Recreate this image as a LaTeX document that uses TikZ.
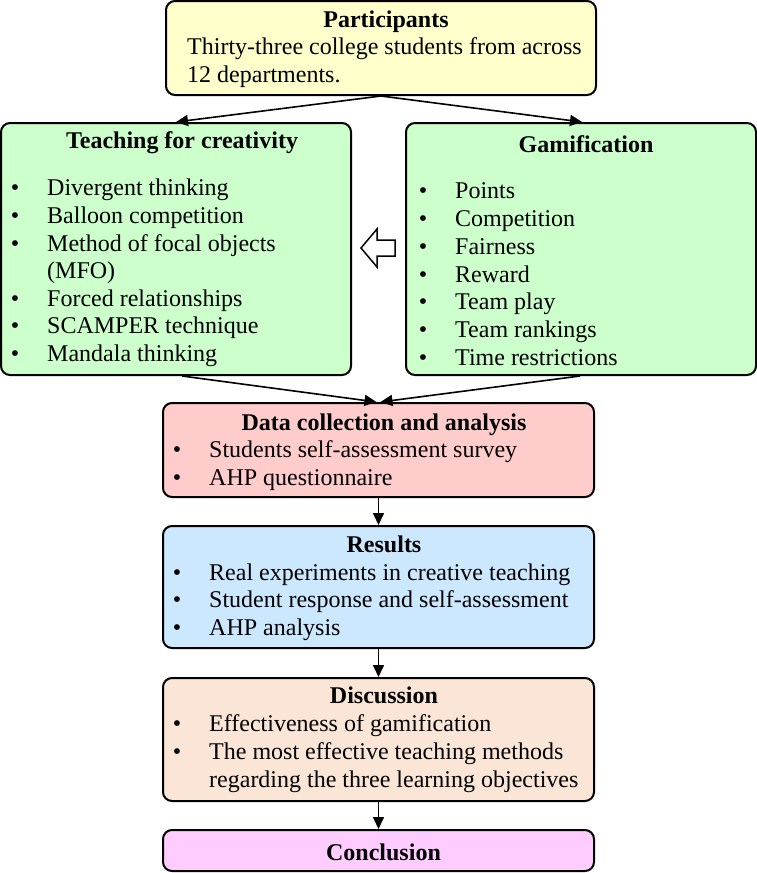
\documentclass[tikz,border=0pt]{standalone}
\usepackage{fontspec}
\setmainfont{Liberation Serif}
\usetikzlibrary{arrows.meta}
\definecolor{cPart}{HTML}{FFFFCC}
\definecolor{cGreen}{HTML}{CCFFCC}
\definecolor{cData}{HTML}{FFCCCC}
\definecolor{cRes}{HTML}{CCE8FF}
\definecolor{cDisc}{HTML}{FBE5D6}
\definecolor{cConc}{HTML}{FFCCFF}
\tikzset{
  box/.style={draw=black, line width=2pt, rounded corners=9pt, inner sep=0pt},
  ttl/.style={anchor=base, inner sep=0pt, font=\fontsize{24}{28}\selectfont\bfseries},
  txt/.style={anchor=base west, inner sep=0pt, font=\fontsize{24}{28}\selectfont},
  bul/.style={anchor=base, inner sep=0pt, font=\fontsize{24}{28}\selectfont},
  conn/.style={line width=1.6pt, -{Triangle[length=12pt,width=11pt]}},
}
\begin{document}
\begin{tikzpicture}[x=1pt,y=-1pt]
\useasboundingbox (0,0) rectangle (757,873);
% boxes
\node[box, fill=cPart, minimum width=430pt, minimum height=94pt] (part) at (381,48) {};
\node[box, fill=cGreen, minimum width=350pt, minimum height=252pt] (teach) at (176,249) {};
\node[box, fill=cGreen, minimum width=350pt, minimum height=252pt] (gam) at (581,249) {};
\node[box, fill=cData, minimum width=431pt, minimum height=94pt] (data) at (378.5,450) {};
\node[box, fill=cRes, minimum width=431pt, minimum height=122pt] (res) at (378.5,587) {};
\node[box, fill=cDisc, minimum width=431pt, minimum height=123pt] (disc) at (378.5,739.5) {};
\node[box, fill=cConc, minimum width=431pt, minimum height=41pt] (conc) at (378.5,850.5) {};
% participants
\node[ttl] (pt) at (386,27) {Participants};
\node[txt] (p1) at (187,54.5) {Thirty-three college students from across};
\node[txt] (p2) at (187,82) {12 departments.};
% teaching
\node[ttl] (tt) at (182,148) {Teaching for creativity};
\foreach \y/\t/\b [count=\i] in {195/Divergent thinking/1, 223/Balloon competition/1, 251/Method of focal objects/1, 278/(MFO)/0, 306/Forced relationships/1, 333/SCAMPER technique/1, 361/Mandala thinking/1}{
  \node[txt] (t\i) at (47,\y) {\t};
  \ifnum\b=1 \node[bul] (tb\i) at (15,\y) {•};\fi
}
% gamification
\node[ttl] (gt) at (586,152) {Gamification};
\foreach \y/\t [count=\i] in {198/Points, 226/Competition, 254/Fairness, 282/Reward, 309/Team play, 337/Team rankings, 365/Time restrictions}{
  \node[txt] (g\i) at (455,\y) {\t};
  \node[bul] (gb\i) at (423,\y) {•};
}
% data
\node[ttl] (dt) at (384,430) {Data collection and analysis};
\foreach \y/\t [count=\i] in {457/Students self-assessment survey, 485/AHP questionnaire}{
  \node[txt] (d\i) at (209,\y) {\t};
  \node[bul] (db\i) at (177,\y) {•};
}
% results
\node[ttl] (rt) at (384,552) {Results};
\foreach \y/\t [count=\i] in {580/Real experiments in creative teaching, 607/Student response and self-assessment, 635/AHP analysis}{
  \node[txt] (r\i) at (209,\y) {\t};
  \node[bul] (rb\i) at (177,\y) {•};
}
% discussion
\node[ttl] (st) at (384,703) {Discussion};
\node[txt] (s1) at (209,731) {Effectiveness of gamification};
\node[bul] (sb1) at (177,731) {•};
\node[txt] (s2) at (209,759) {The most effective teaching methods};
\node[bul] (sb2) at (177,759) {•};
\node[txt] (s3) at (209,787) {regarding the three learning objectives};
% conclusion
\node[ttl] (ct) at (383.5,860) {Conclusion};
% connectors
\draw[conn] (part.south) -- (teach.north);
\draw[conn] (part.south) -- ([xshift=1pt]gam.north);
\draw[conn] ([xshift=6pt]teach.south) -- ([xshift=-2pt]data.north);
\draw[conn] ([xshift=-1pt]gam.south) -- ([xshift=2pt]data.north);
\draw[conn] (data.south) -- (res.north);
\draw[conn] (res.south) -- (disc.north);
\draw[conn] (disc.south) -- (conc.north);
% hollow arrow
\draw[line width=1.5pt, fill=white, line join=miter]
  (361,248) -- (377,229) -- (377,240) -- (395,240) -- (395,256) -- (377,256) -- (377,267) -- cycle;
\end{tikzpicture}
\end{document}
